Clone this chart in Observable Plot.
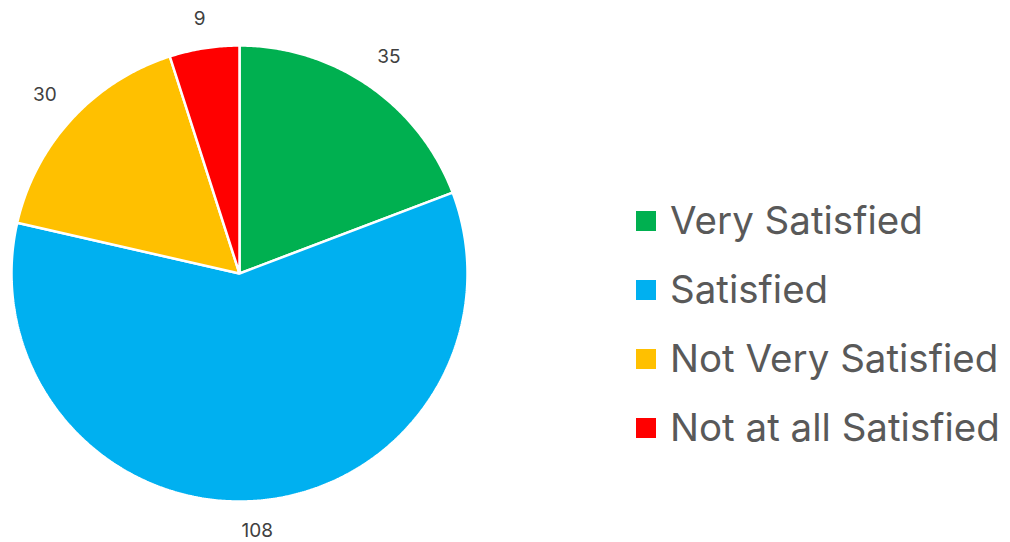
<!DOCTYPE html>
<html>
<head>
<meta charset="utf-8">
<script src="https://cdn.jsdelivr.net/npm/d3@7"></script>
<script src="https://cdn.jsdelivr.net/npm/@observablehq/plot@0.6"></script>
<style>
  html, body { margin: 0; padding: 0; background: #fff; }
  #wrap { position: relative; width: 1010px; height: 542px; overflow: hidden; }
  #legend { position: absolute; left: 636px; top: 0; font-family: Inter, "Open Sans", sans-serif; color: #595959; }
  .item { position: absolute; left: 0; white-space: nowrap; font-size: 38.5px; line-height: 1; }
  .sw { position: absolute; left: 0; width: 20px; height: 20px; }
  .lbl { position: absolute; left: 34px; }
</style>
</head>
<body>
<div id="wrap"><div id="chart"></div><div id="legend"></div></div>
<script>
const categories = ["Very Satisfied", "Satisfied", "Not Very Satisfied", "Not at all Satisfied"];
const values = [35, 108, 30, 9];
const colors = ["#00B050", "#00B0F0", "#FFC000", "#FF0000"];

const cx = 239, cy = 273, R = 228;
const total = d3.sum(values);

// slice geometry from data
const slices = [];
const labels = [];
let acc = 0;
categories.forEach((c, i) => {
  const a0 = acc / total * 2 * Math.PI;
  acc += values[i];
  const a1 = acc / total * 2 * Math.PI;
  slices.push({cat: c, x: 0, y: 0});
  const n = Math.max(2, Math.ceil((a1 - a0) / (Math.PI / 360)));
  for (let k = 0; k <= n; k++) {
    const a = a0 + (a1 - a0) * k / n;
    slices.push({cat: c, x: Math.sin(a), y: Math.cos(a)});
  }
  const am = (a0 + a1) / 2;
  const txt = String(values[i]);
  const hw = 6.5 * txt.length, hh = 8;
  const rl = (R + 21 + hw * Math.abs(Math.sin(am)) + hh * Math.abs(Math.cos(am))) / R;
  labels.push({text: txt, x: Math.sin(am) * rl, y: Math.cos(am) * rl});
});

const chart = Plot.plot({
  width: 1010,
  height: 542,
  margin: 0,
  x: {domain: [-1, 1], range: [cx - R, cx + R], axis: null},
  y: {domain: [-1, 1], range: [cy + R, cy - R], axis: null},
  color: {domain: categories, range: colors},
  style: {fontFamily: "Inter, 'Open Sans', sans-serif", background: "white", overflow: "visible"},
  marks: [
    Plot.line(slices, {x: "x", y: "y", z: "cat", fill: "cat", stroke: "white", strokeWidth: 2.5, curve: "linear-closed", strokeLinejoin: "miter"}),
    Plot.text(labels, {x: "x", y: "y", text: "text", fontSize: 19, fill: "#404040"})
  ]
});
document.getElementById("chart").appendChild(chart);

const legend = document.getElementById("legend");
const rowTop = [201, 270, 339, 408];
categories.forEach((c, i) => {
  const it = document.createElement("div");
  it.className = "item";
  it.style.top = rowTop[i] + "px";
  it.innerHTML = `<div class="sw" style="background:${colors[i]};top:10px"></div><span class="lbl">${c}</span>`;
  legend.appendChild(it);
});
</script>
</body>
</html>
